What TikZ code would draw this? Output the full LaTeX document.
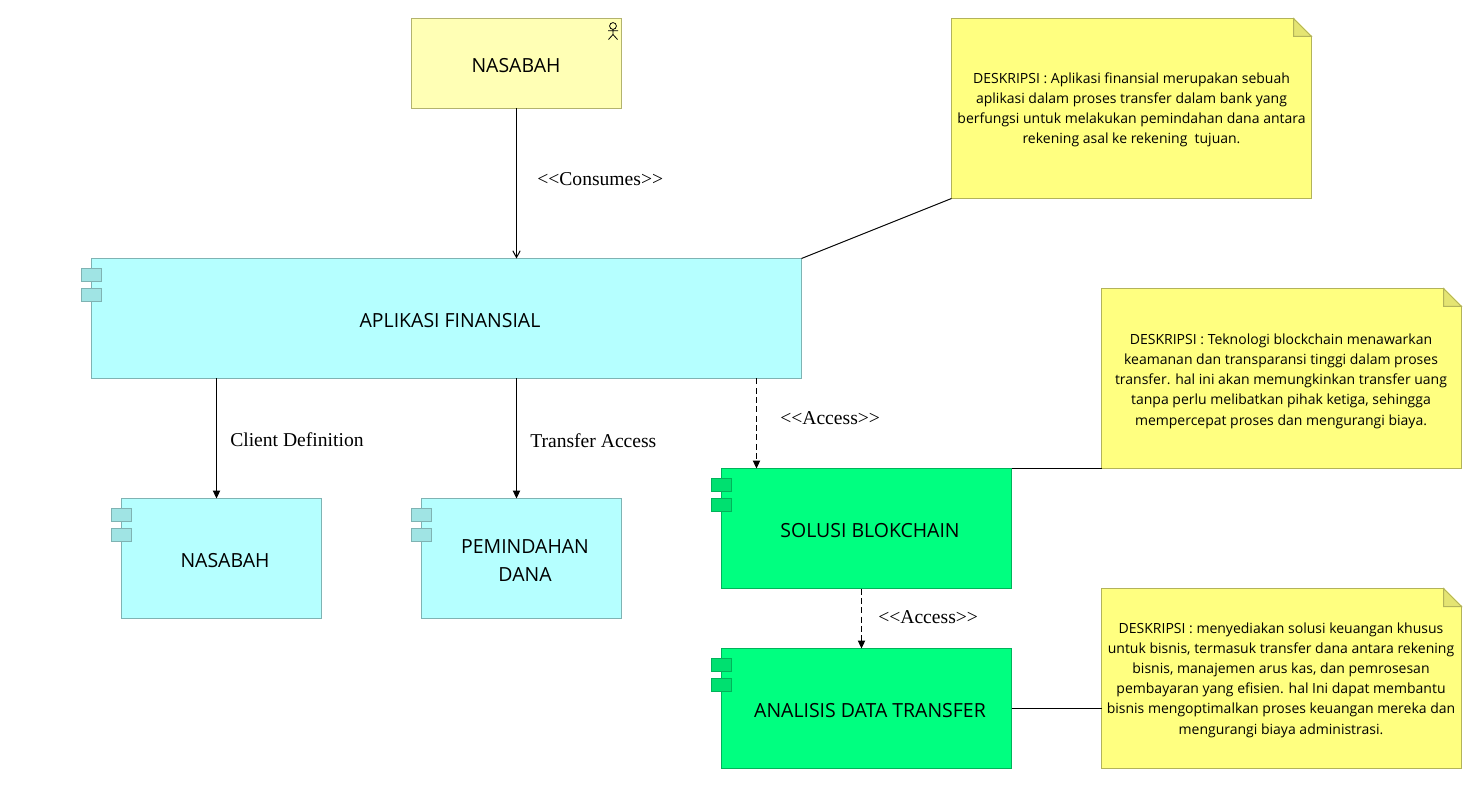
\documentclass[tikz,border=0pt]{standalone}
\usepackage{fontspec}
\setmainfont{Open Sans}
\newfontfamily\lblfont{Liberation Serif}
\usetikzlibrary{arrows.meta}
\definecolor{actorfill}{HTML}{FFFFB5}
\definecolor{actorline}{HTML}{B3B36E}
\definecolor{cyanfill}{HTML}{B5FFFF}
\definecolor{cyanline}{HTML}{7FB3B3}
\definecolor{cyanport}{HTML}{A0E4E4}
\definecolor{greenfill}{HTML}{00FF80}
\definecolor{greenline}{HTML}{00B35A}
\definecolor{greenport}{HTML}{00E070}
\definecolor{notefill}{HTML}{FFFF80}
\definecolor{noteline}{HTML}{B3B35A}
\definecolor{notefold}{HTML}{E4E472}
\tikzset{
  x=0.75pt,y=-0.75pt,
  mainlbl/.style={font=\fontsize{14.6}{21}\selectfont,align=center,text=black},
  notelbl/.style={font=\fontsize{10.5}{15.15}\selectfont,align=center,text=black},
  edgelbl/.style={font=\lblfont\fontsize{14.7}{17}\selectfont,text=black,anchor=west,inner sep=0pt},
  actorbox/.style={draw=actorline,fill=actorfill,line width=0.75pt,outer sep=0pt,inner sep=0pt,minimum width=157.5pt,minimum height=67.5pt,anchor=north west},
  compbox/.style={draw=#1line,fill=#1fill,line width=0.75pt,outer sep=0pt,inner sep=0pt,anchor=north west},
  portbox/.style={draw=#1line,fill=#1port,line width=0.75pt,outer sep=0pt,inner sep=0pt,minimum width=15pt,minimum height=9.75pt,anchor=north west},
  notelink/.style={draw=black,line width=0.75pt},
  flow/.style={draw=black,line width=0.75pt,-{Triangle[length=6pt,width=5.5pt]}},
  flowdash/.style={flow,dash pattern=on 4.5pt off 2.5pt},
  openflow/.style={draw=black,line width=0.75pt,-{Straight Barb[length=5pt,width=5.5pt]}},
  notebody/.style={draw=noteline,fill=notefill,line width=0.75pt,outer sep=0pt,inner sep=0pt,minimum width=270pt,minimum height=135pt,anchor=north west},
  notecorner/.style={draw=noteline,fill=notefold,line width=0.75pt},
}
\newcommand{\compnode}[6]{% name, x, y, w, h, colour
  \node[compbox=#6,minimum width=#4*0.75pt,minimum height=#5*0.75pt] (#1) at (#2,#3) {};
  \node[portbox=#6] (#1p1) at (#2-10,#3+10) {};
  \node[portbox=#6] (#1p2) at (#2-10,#3+30) {};
}
\newcommand{\notenode}[3]{% name, x, y
  \node[notebody] (#1) at (#2,#3) {};
  \fill[white] (#2+342,#3-1) -- (#2+361,#3-1) -- (#2+361,#3+18) -- cycle;
  \filldraw[notecorner] (#2+342,#3) -- (#2+360,#3+18) -- (#2+342,#3+18) -- cycle;
}
\begin{document}
\begin{tikzpicture}
\useasboundingbox (0,0) rectangle (1478,791);
% actor
\node[actorbox] (actor) at (411.5,18.5) {};
\node[mainlbl] (actorlbl) at (516,65.5) {NASABAH};
\draw[line width=0.6pt,draw=black] (613,26) circle[radius=3.4]
  (613,29.4) -- (613,34.5) (608,30.8) -- (618,30.8) (613,34.5) -- (608.5,39.5) (613,34.5) -- (617.5,39.5);
% components
\compnode{app}{91.5}{258.5}{710}{120}{cyan}
\node[mainlbl] (applbl) at (450,321) {APLIKASI FINANSIAL};
\compnode{nas}{121.5}{498.5}{200}{120}{cyan}
\node[mainlbl] (naslbl) at (225,561) {NASABAH};
\compnode{pem}{421.5}{498.5}{200}{120}{cyan}
\node[mainlbl] (pemlbl) at (525,561) {PEMINDAHAN\\DANA};
\compnode{blok}{721.5}{468.5}{290}{120}{green}
\node[mainlbl] (bloklbl) at (870,531) {SOLUSI BLOKCHAIN};
\compnode{ana}{721.5}{648.5}{290}{120}{green}
\node[mainlbl] (analbl) at (870,711) {ANALISIS DATA TRANSFER};
% notes
\notenode{n1}{951.5}{18.5}
\node[notelbl] (n1t) at (1131.5,110) {DESKRIPSI : Aplikasi finansial merupakan sebuah\\aplikasi dalam proses transfer dalam bank yang\\berfungsi untuk melakukan pemindahan dana antara\\rekening asal ke rekening\ \ tujuan.};
\notenode{n2}{1101.5}{288.5}
\node[notelbl] (n2t) at (1281,381) {DESKRIPSI : Teknologi blockchain menawarkan\\keamanan dan transparansi tinggi dalam proses\\transfer. hal ini akan memungkinkan transfer uang\\tanpa perlu melibatkan pihak ketiga, sehingga\\mempercepat proses dan mengurangi biaya.};
\notenode{n3}{1101.5}{588.5}
\node[notelbl] (n3t) at (1281,680) {DESKRIPSI : menyediakan solusi keuangan khusus\\untuk bisnis, termasuk transfer dana antara rekening\\bisnis, manajemen arus kas, dan pemrosesan\\pembayaran yang efisien. hal Ini dapat membantu\\bisnis mengoptimalkan proses keuangan mereka dan\\mengurangi biaya administrasi.};
% note links
\draw[notelink] (n1.south west) -- (app.north east);
\draw[notelink] (n2.south west) -- (blok.north east);
\draw[notelink] (ana.east) -- (ana.east -| n3.west);
% connectors
\coordinate (t1) at (actor.south |- app.north);
\draw[openflow] (actor.south) -- (t1);
\coordinate (t2) at ([xshift=-3.75pt]nas.north);
\draw[flow] (t2 |- app.south) -- (t2);
\coordinate (t3) at ([xshift=-3.75pt]pem.north);
\draw[flow] (t3 |- app.south) -- (t3);
\coordinate (t4) at ([xshift=-82.5pt]blok.north);
\draw[flowdash] (t4 |- app.south) -- (t4);
\coordinate (t5) at ([xshift=-3.75pt]ana.north);
\draw[flowdash] (t5 |- blok.south) -- (t5);
% labels
\node[edgelbl] (e1) at (537,179.5) {<{}<Consumes>{}>};
\node[edgelbl] (e2) at (230,439.5) {Client Definition};
\node[edgelbl] (e3) at (530,440.5) {Transfer Access};
\node[edgelbl] (e4) at (780,418.5) {<{}<Access>{}>};
\node[edgelbl] (e5) at (878,617.5) {<{}<Access>{}>};
\end{tikzpicture}
\end{document}
